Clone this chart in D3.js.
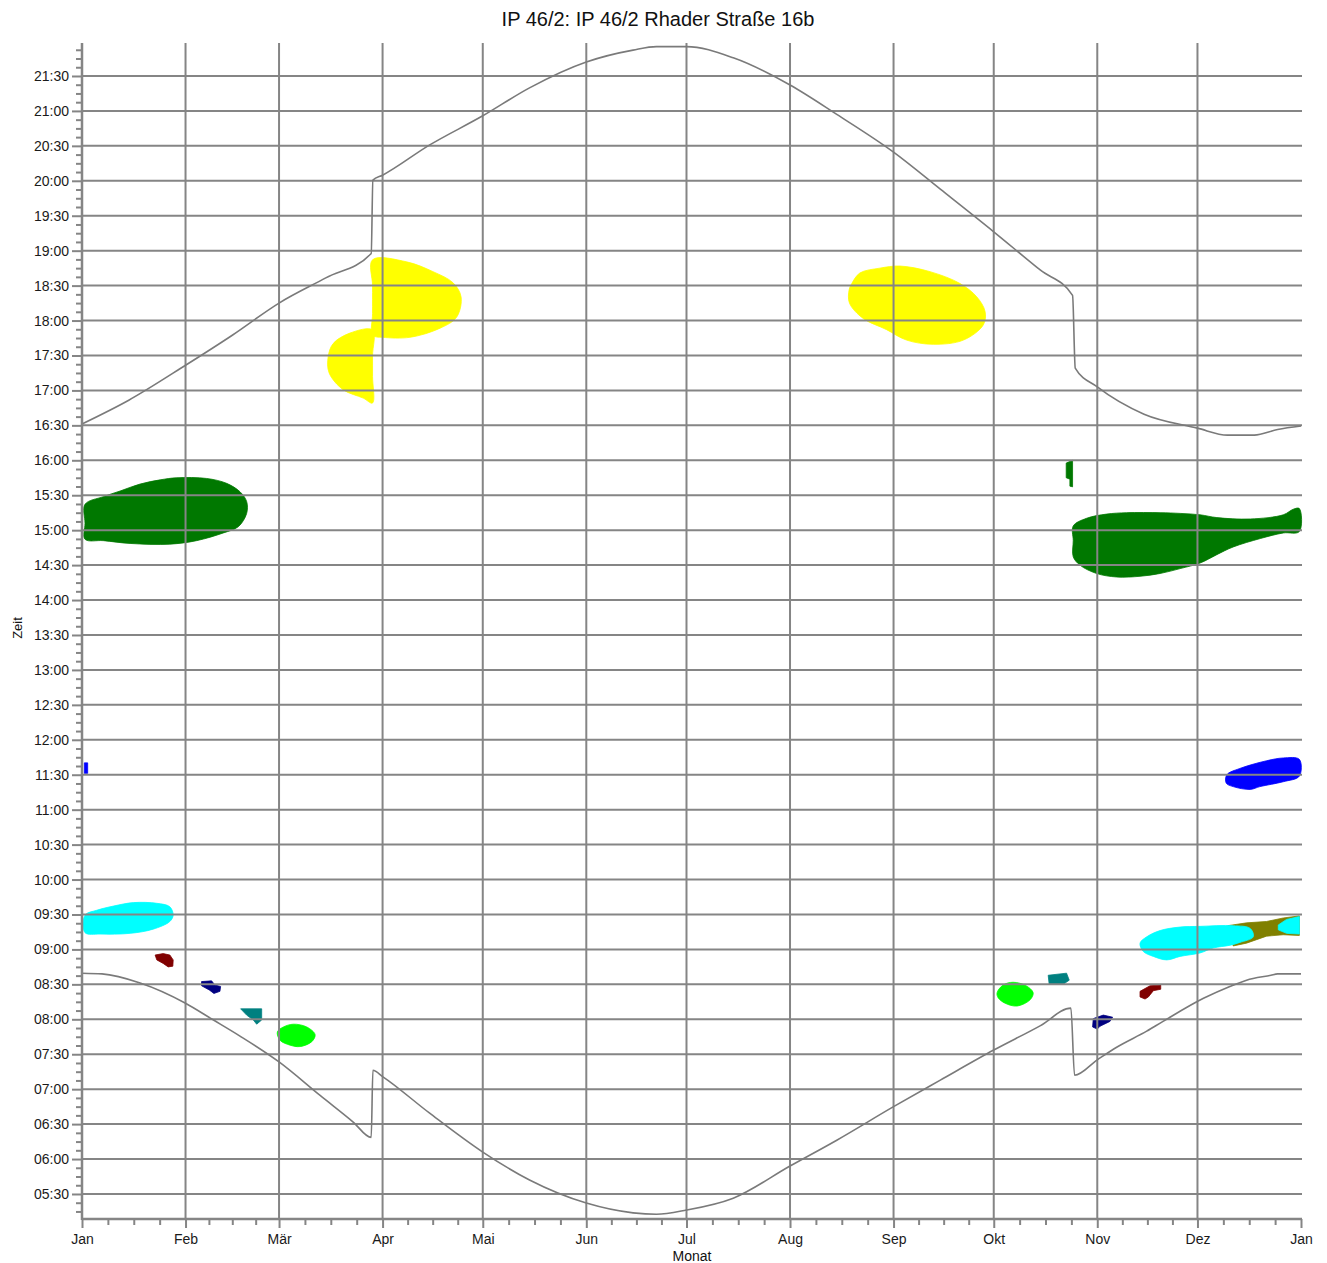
<!DOCTYPE html>
<html><head><meta charset="utf-8">
<script src="https://cdn.jsdelivr.net/npm/d3@7"></script>
<style>
html,body{margin:0;padding:0;background:#fff;}
svg{display:block;font-family:"Liberation Sans",Arial,sans-serif;}
</style></head>
<body>
<svg id="chart" width="1327" height="1263"></svg>
<script>
// ---------- data ----------
const title = "IP 46/2: IP 46/2 Rhader Straße 16b";
const monthLabels = ["Jan","Feb","Mär","Apr","Mai","Jun","Jul","Aug","Sep","Okt","Nov","Dez","Jan"];
const monthStartDays = [0,31,59,90,120,151,181,212,243,273,304,334,365];
const timeDomain = [5.142, 21.972]; // hours

// sunset [dayOfYear, hour]
const sunset = [[0,16.52],[14,16.86],[31,17.36],[45,17.79],[59,18.25],[73,18.61],[86.6,18.96],[87.1,20.01],
  [90,20.08],[104,20.51],[120,20.93],[134,21.33],[151,21.70],[165,21.87],[172,21.92],[181,21.92],[195,21.76],
  [212,21.37],[226,20.95],[243,20.41],[257,19.88],[273,19.27],[287,18.72],[296.6,18.36],[297.4,17.32],
  [304,17.05],[318,16.66],[334,16.46],[343,16.36],[351,16.36],[358,16.44],[365,16.49]];
// sunrise [dayOfYear, hour]
const sunrise = [[0,8.66],[6,8.65],[17.4,8.52],[31,8.23],[39,8.00],[47.3,7.76],[59,7.39],[71.3,6.91],[81.2,6.53],
  [86.6,6.31],[87.1,7.27],[90,7.18],[104,6.66],[120,6.10],[134,5.70],[151,5.37],[165,5.23],[172,5.21],[181,5.27],
  [195,5.44],[212,5.90],[226,6.27],[243,6.75],[257,7.13],[273,7.56],[287,7.91],[296.1,8.16],[297.2,7.20],
  [304,7.42],[309.8,7.60],[318.8,7.83],[323.7,7.97],[335.8,8.30],[343.7,8.47],[348.7,8.56],[356,8.63],[358,8.65],[365,8.65]];

// shadow areas (outline points [dayOfYear, hour])
const yellowSpringUpper = [[87.0,18.87],[97.2,18.84],[105.1,18.70],[111.1,18.54],[113.5,18.34],[112.2,18.05],
  [107.2,17.89],[98.2,17.76],[90.1,17.76],[87.0,17.79],[87.0,18.1],[87.0,18.5]];
const yellowSpringLower = [[87.0,17.865],[80.2,17.82],[75.2,17.67],[73.7,17.48],[74.0,17.25],[78.2,17.01],
  [84.2,16.89],[87.0,16.82],[87.0,17.2],[87.0,17.5]];
const yellowAutumn = [[230.5,18.53],[232.9,18.68],[238.9,18.75],[244.9,18.78],[253.9,18.70],[262.9,18.53],
  [267.9,18.34],[270.4,18.13],[269.9,17.94],[263.9,17.72],[254.9,17.66],[246.9,17.72],[240.9,17.87],
  [233.9,18.03],[229.8,18.25],[229.7,18.44]];
const greenWinterStart = [[0.9,15.37],[6.4,15.48],[11.4,15.56],[17.4,15.66],[23.4,15.72],[28.4,15.75],[37.3,15.74],
  [43.3,15.67],[47.3,15.55],[49.3,15.41],[49.3,15.24],[46.8,15.05],[42.3,14.96],[34.3,14.85],[26.3,14.80],
  [14.4,14.81],[6.4,14.85],[0.9,14.87],[0.9,15.1]];
const greenOctSmall = [[294.7,15.96],[296.6,16.0],[296.6,15.62],[295.8,15.63],[295.8,15.73],[294.7,15.75]];
const greenWinterEnd = [[296.8,15.06],[300.8,15.17],[306.8,15.23],[312.8,15.25],[322.8,15.25],[328.8,15.24],
  [334.8,15.22],[339.8,15.18],[349.8,15.16],[359.7,15.22],[362.7,15.30],[364.5,15.31],[364.5,14.98],
  [359.7,14.96],[352.8,14.88],[344.7,14.76],[339.8,14.65],[334.8,14.53],[328.8,14.45],[322.8,14.38],
  [316.8,14.34],[309.8,14.33],[303.8,14.38],[298.8,14.50],[296.8,14.62],[296.8,14.85]];
const blueJanSmall = [[0.7,11.67],[1.7,11.67],[1.7,11.52],[0.7,11.52]];
const blueDec = [[342.8,11.50],[346.7,11.59],[354.7,11.70],[359.7,11.74],[364.5,11.72],[364.5,11.48],
  [359.7,11.40],[352.7,11.33],[349.8,11.29],[344.7,11.33],[342.6,11.38]];
const cyanJan = [[0.9,9.49],[4.4,9.56],[9.4,9.62],[15.4,9.67],[22.4,9.66],[26.3,9.61],[27.3,9.49],[26.3,9.40],
  [21.3,9.29],[14.4,9.23],[5.4,9.22],[0.9,9.24]];
const oliveDec = [[343.1,9.34],[348.7,9.38],[354.7,9.40],[359.7,9.45],[364.5,9.48],[364.5,9.20],[359.7,9.21],
  [354.7,9.19],[351.7,9.14],[348.7,9.09],[344.7,9.05]];
const cyanNovDec = [[316.8,9.09],[318.8,9.18],[322.8,9.27],[328.8,9.32],[334.8,9.33],[344.7,9.34],[349.8,9.30],
  [350.7,9.18],[346.7,9.10],[343.8,9.06],[338.7,9.02],[334.8,8.95],[328.8,8.90],[324.8,8.85],[320.8,8.90],[317.8,8.97]];
const cyanDecEnd = [[358.2,9.35],[360.7,9.43],[364.5,9.47],[364.5,9.22],[360.7,9.23],[358.2,9.28]];
const darkRedJan = [[21.9,8.92],[24.3,8.94],[26.3,8.92],[27.3,8.85],[27.2,8.76],[25.8,8.75],[24.3,8.80],[22.4,8.85]];
const darkRedNov = [[316.8,8.40],[319.8,8.48],[323.0,8.49],[323.0,8.43],[320.8,8.41],[319.3,8.32],[318.3,8.29],[316.8,8.32]];
const navyFeb = [[35.8,8.54],[38.8,8.55],[39.8,8.49],[41.5,8.47],[41.3,8.40],[39.5,8.37],[38.1,8.42],[35.8,8.48]];
const navyNov = [[302.8,8.01],[305.8,8.06],[308.6,8.03],[307.8,7.97],[304.8,7.90],[304.0,7.86],[302.6,7.89]];
const tealFeb = [[47.5,8.15],[53.8,8.15],[53.8,7.99],[52.3,7.93],[51.3,7.99],[49.3,8.06]];
const tealOct = [[289.3,8.63],[294.8,8.66],[295.6,8.56],[293.8,8.50],[289.6,8.50]];
const limeMar = [[58.5,7.82],[60.3,7.89],[63.3,7.93],[67.3,7.89],[69.8,7.78],[68.8,7.68],[65.3,7.61],[62.3,7.63],[59.3,7.70]];
const limeOct = [[274.0,8.38],[275.8,8.49],[278.8,8.53],[282.7,8.48],[284.8,8.38],[283.9,8.28],[280.0,8.19],[276.4,8.23],[274.3,8.31]];

const shadowAreas = [
  {pts: yellowSpringUpper, color: "#ffff00", smooth: true},
  {pts: yellowSpringLower, color: "#ffff00", smooth: true},
  {pts: yellowAutumn, color: "#ffff00", smooth: true},
  {pts: greenWinterStart, color: "#007800", smooth: true},
  {pts: greenOctSmall, color: "#007800", smooth: false},
  {pts: greenWinterEnd, color: "#007800", smooth: true},
  {pts: blueJanSmall, color: "#0000ff", smooth: false},
  {pts: blueDec, color: "#0000ff", smooth: true},
  {pts: cyanJan, color: "#00ffff", smooth: true},
  {pts: oliveDec, color: "#808000", smooth: false},
  {pts: cyanNovDec, color: "#00ffff", smooth: true},
  {pts: cyanDecEnd, color: "#00ffff", smooth: false},
  {pts: darkRedJan, color: "#800000", smooth: false},
  {pts: darkRedNov, color: "#800000", smooth: false},
  {pts: navyFeb, color: "#000080", smooth: false},
  {pts: navyNov, color: "#000080", smooth: false},
  {pts: tealFeb, color: "#008080", smooth: false},
  {pts: tealOct, color: "#008080", smooth: false},
  {pts: limeMar, color: "#00ff00", smooth: true},
  {pts: limeOct, color: "#00ff00", smooth: true}
];

// ---------- drawing ----------
const svg = d3.select("#chart");
const L = 82, R = 1301, T = 43, B = 1219;
const x = d3.scaleLinear().domain([0,365]).range([L,R]);
const y = d3.scaleLinear().domain(timeDomain).range([B,T]);
const gridColor = "#858585";

// shadow areas
const areaLin = d3.line().x(d=>x(d[0])).y(d=>y(d[1])).curve(d3.curveLinearClosed);
const areaSmooth = d3.line().x(d=>x(d[0])).y(d=>y(d[1])).curve(d3.curveCatmullRomClosed.alpha(0.5));
svg.append("g").selectAll("path").data(shadowAreas).join("path")
  .attr("d", d=>(d.smooth ? areaSmooth : areaLin)(d.pts)).attr("fill", d=>d.color).attr("stroke", d=>d.color).attr("stroke-width",0.8);

// grid
const halfHours = d3.range(11, 44).map(i=>i/2); // 5.5 .. 21.5
const quarterTicks = d3.range(Math.ceil(timeDomain[0]*8), Math.floor(timeDomain[1]*8)+1).map(i=>i/8);
const grid = svg.append("g");
grid.selectAll("line.h").data(halfHours).join("line")
  .attr("x1", L).attr("x2", R+1).attr("y1", d=>y(d)).attr("y2", d=>y(d))
  .attr("stroke", gridColor).attr("stroke-width", 2);
grid.selectAll("line.v").data(monthStartDays.slice(1,12)).join("line")
  .attr("x1", d=>x(d)).attr("x2", d=>x(d)).attr("y1", T).attr("y2", B)
  .attr("stroke", gridColor).attr("stroke-width", 2);

// sun curve
const sunLine = d3.line().x(d=>x(d[0])).y(d=>y(d[1])).curve(d3.curveMonotoneX);
svg.append("path").attr("d", sunLine(sunset)).attr("fill","none").attr("stroke","#7a7a7a").attr("stroke-width",1.6);
svg.append("path").attr("d", sunLine(sunrise)).attr("fill","none").attr("stroke","#7a7a7a").attr("stroke-width",1.6);

// axes
const fmt = h => { const hh = Math.floor(h), mm = Math.round((h-hh)*60); return String(hh).padStart(2,"0")+":"+String(mm).padStart(2,"0"); };
const yAxis = d3.axisLeft(y).tickValues(halfHours).tickFormat(fmt).tickSize(10).tickPadding(3);
const gy = svg.append("g").attr("transform", `translate(${L},0)`).call(yAxis);
gy.select(".domain").remove();
gy.selectAll(".tick line").attr("stroke", gridColor).attr("stroke-width", 2);
gy.selectAll(".tick text").attr("font-size", 14).attr("fill", "#1a1a1a").attr("font-family","Liberation Sans, Arial, sans-serif");
const yMinor = d3.axisLeft(y).tickValues(quarterTicks.filter(q=>!halfHours.includes(q))).tickFormat("").tickSize(6);
const gym = svg.append("g").attr("transform", `translate(${L},0)`).call(yMinor);
gym.select(".domain").remove();
gym.selectAll(".tick line").attr("stroke", gridColor).attr("stroke-width", 2);
svg.append("line").attr("x1",L).attr("x2",L).attr("y1",T).attr("y2",B+1).attr("stroke",gridColor).attr("stroke-width",2.5);

const xAxis = d3.axisBottom(x).tickValues(monthStartDays).tickFormat((d,i)=>monthLabels[i]).tickSize(9).tickPadding(6);
const gx = svg.append("g").attr("transform", `translate(0,${B})`).call(xAxis);
gx.select(".domain").remove();
gx.selectAll(".tick line").attr("stroke", gridColor).attr("stroke-width", 2);
gx.selectAll(".tick text").attr("font-size", 14).attr("fill", "#1a1a1a").attr("font-family","Liberation Sans, Arial, sans-serif");
const xMinorVals = [];
for (let m=0;m<12;m++){ const a=monthStartDays[m], b=monthStartDays[m+1]; for(let k=1;k<4;k++) xMinorVals.push(a+(b-a)*k/4); }
const gxm = svg.append("g").attr("transform", `translate(0,${B})`).call(d3.axisBottom(x).tickValues(xMinorVals).tickFormat("").tickSize(6));
gxm.select(".domain").remove();
gxm.selectAll(".tick line").attr("stroke", gridColor).attr("stroke-width", 2);
svg.append("line").attr("x1",L).attr("x2",R+1).attr("y1",B).attr("y2",B).attr("stroke",gridColor).attr("stroke-width",2.5);

// titles
svg.append("text").attr("x", 658).attr("y", 26).attr("text-anchor","middle").attr("font-size", 20).attr("fill","#111").text(title);
svg.append("text").attr("transform","translate(22,628) rotate(-90)").attr("text-anchor","middle").attr("font-size",13).attr("fill","#111").text("Zeit");
svg.append("text").attr("x", 692).attr("y", 1261).attr("text-anchor","middle").attr("font-size",14).attr("fill","#111").text("Monat");
</script>
</body></html>
